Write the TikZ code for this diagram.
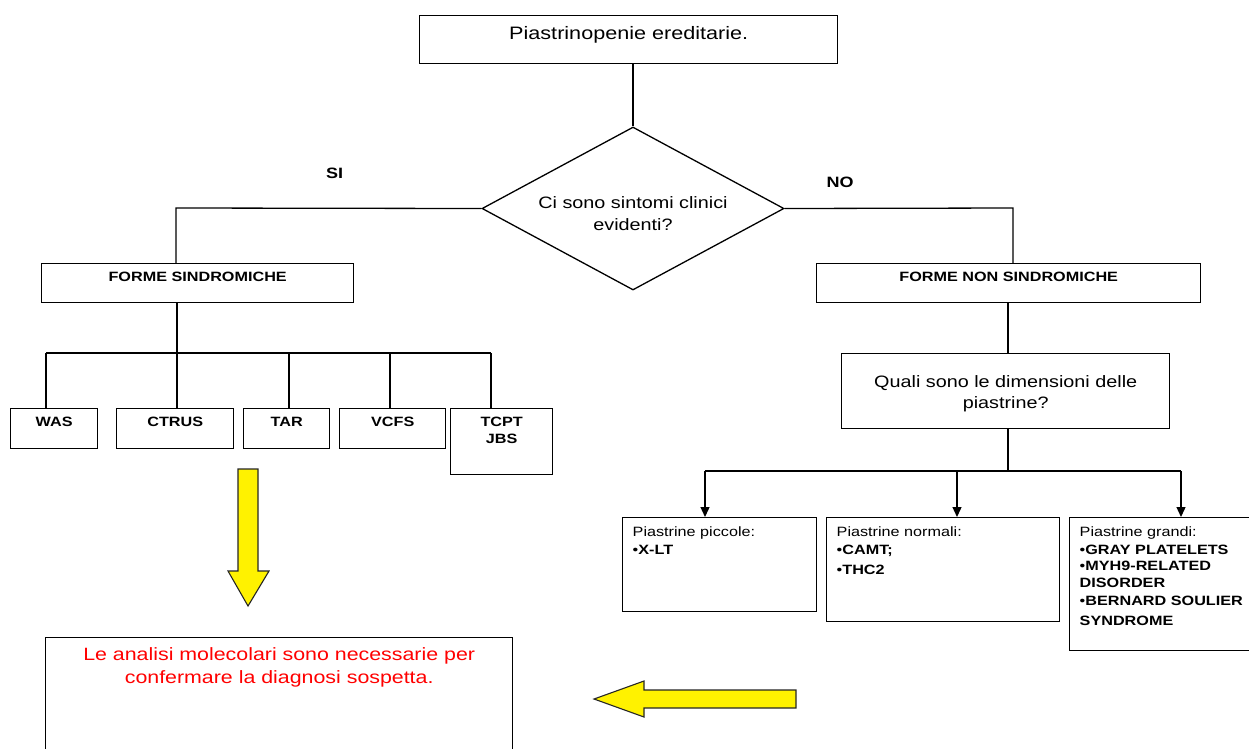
\documentclass[tikz,border=0pt]{standalone}
\usepackage{fontspec}
\setmainfont{Liberation Sans}[FakeStretch=1.2]
\usetikzlibrary{shapes.geometric,arrows.meta}
\newcommand\tbox[4]{\begin{minipage}[c][#2][t]{#1}\centering\rule{0pt}{#3}#4\end{minipage}}
\newcommand\lbox[4]{\begin{minipage}[c][#2][t]{#1}\raggedright\leftskip=10pt\rule{0pt}{#3}#4\end{minipage}}
\begin{document}
\begin{tikzpicture}[x=1pt,y=-1pt,
  box/.style={draw=black, line width=1.4pt, inner sep=0pt, anchor=north west},
  conn/.style={draw=black, line width=1.3pt},
  arr/.style={conn, -{Triangle[width=9pt,length=10pt]}},
  yarrow/.style={fill=yellow, draw=black!85, line width=1.1pt, line join=miter},
  lbl/.style={font=\bfseries\fontsize{15}{18}\selectfont, inner sep=0pt}]
\useasboundingbox (0,0) rectangle (1249,748);
\fill[white] (0,0) rectangle (1249,748);
\clip (0,0) rectangle (1249,748);

% top
\node[box] (top) at (419,15) {\tbox{418pt}{48pt}{23.5pt}{\fontsize{18}{22}\selectfont Piastrinopenie ereditarie.}};
\node[diamond, draw=black, line width=1.3pt, minimum width=302pt, minimum height=163pt, inner sep=0pt] (dia) at (633,208.5) {};
\node[align=center, inner sep=0pt, font=\fontsize{16.5}{22}\selectfont] (diat) at (633,214) {Ci sono sintomi clinici\\evidenti?};
\node[lbl] (si) at (334.5,173) {SI};
\node[lbl] (no) at (840,182) {NO};

% second level
\node[box] (fs) at (41,263) {\tbox{312pt}{39pt}{17.8pt}{\bfseries\fontsize{13.5}{17}\selectfont FORME SINDROMICHE}};
\node[box] (fns) at (816,263) {\tbox{384pt}{39pt}{17.8pt}{\bfseries\fontsize{13.5}{17}\selectfont FORME NON SINDROMICHE}};

% syndromic forms
\node[box] (was) at (10,408) {\tbox{87pt}{40pt}{17.8pt}{\bfseries\fontsize{13.5}{17}\selectfont WAS}};
\node[box] (ctrus) at (116,408) {\tbox{117pt}{40pt}{17.8pt}{\bfseries\fontsize{13.5}{17}\selectfont CTRUS}};
\node[box] (tar) at (243,408) {\tbox{86pt}{40pt}{17.8pt}{\bfseries\fontsize{13.5}{17}\selectfont TAR}};
\node[box] (vcfs) at (339,408) {\tbox{106pt}{40pt}{17.8pt}{\bfseries\fontsize{13.5}{17}\selectfont VCFS}};
\node[box] (tcpt) at (450,408) {\tbox{102pt}{66pt}{17.8pt}{\bfseries\fontsize{13.5}{17}\selectfont TCPT\\JBS}};

% non syndromic
\node[box] (q) at (841,353) {\tbox{328pt}{75pt}{34pt}{\fontsize{16.5}{21}\selectfont Quali sono le dimensioni delle\\piastrine?}};
\node[box] (pic) at (622,517) {\lbox{194pt}{94pt}{19pt}{\fontsize{13.5}{17}\selectfont Piastrine piccole:\\[1pt]•\textbf{X-LT}}};
\node[box] (nor) at (826,517) {\lbox{233pt}{104pt}{19pt}{\fontsize{13.5}{17}\selectfont Piastrine normali:\\[1pt]•\textbf{CAMT;}\\[3pt]•\textbf{THC2}}};
\node[box] (gra) at (1069,517) {\lbox{195pt}{133pt}{19pt}{\fontsize{13.5}{17}\selectfont Piastrine grandi:\\[1pt]•\textbf{GRAY PLATELETS}\\[-1pt]•\textbf{MYH9-RELATED}\\\textbf{DISORDER}\\[1pt]•\textbf{BERNARD SOULIER}\\[3pt]\textbf{SYNDROME}}};

% result
\node[box] (mol) at (45,637) {\tbox{467pt}{140pt}{22.5pt}{\color{red}\fontsize{17.8}{23.5}\selectfont Le analisi molecolari sono necessarie per\\confermare la diagnosi sospetta.}};

% junction coordinates
\coordinate (jl) at (176,208);
\coordinate (jr) at (1013,208);
\coordinate (j1) at (177,353);
\coordinate (c1) at (46,353);
\coordinate (c2) at (177,353);
\coordinate (c3) at (289,353);
\coordinate (c4) at (390,353);
\coordinate (c5) at (491,353);
\coordinate (j2) at (1008,471);
\coordinate (a1) at (705,471);
\coordinate (a2) at (957,471);
\coordinate (a3) at (1181,471);

% connectors
\draw[conn] (dia.north |- top.south) -- (dia.north);
\draw[conn] (dia.west) -- (jl) -- (jl |- fs.north);
\draw[conn] (dia.east) -- (jr) -- (jr |- fns.north);
\draw[conn] (j1 |- fs.south) -- (j1);
\draw[conn] (c1) -- (c5);
\draw[conn] (c1) -- (c1 |- was.north);
\draw[conn] (c2) -- (c2 |- ctrus.north);
\draw[conn] (c3) -- (c3 |- tar.north);
\draw[conn] (c4) -- (c4 |- vcfs.north);
\draw[conn] (c5) -- (c5 |- tcpt.north);
\draw[conn] (j2 |- fns.south) -- (j2 |- q.north);
\draw[conn] (j2 |- q.south) -- (j2);
\draw[conn] (a1) -- (a3);
\draw[arr] (a1) -- (a1 |- pic.north);
\draw[arr] (a2) -- (a2 |- nor.north);
\draw[arr] (a3) -- (a3 |- gra.north);

% yellow block arrows
\draw[yarrow] (238,469) -- (258,469) -- (258,571) -- (269,571) -- (248,606) -- (228,571) -- (238,571) -- cycle;
\draw[yarrow] (796,690) -- (644,690) -- (644,681) -- (594,699) -- (644,717) -- (644,708) -- (796,708) -- cycle;
\end{tikzpicture}
\end{document}
